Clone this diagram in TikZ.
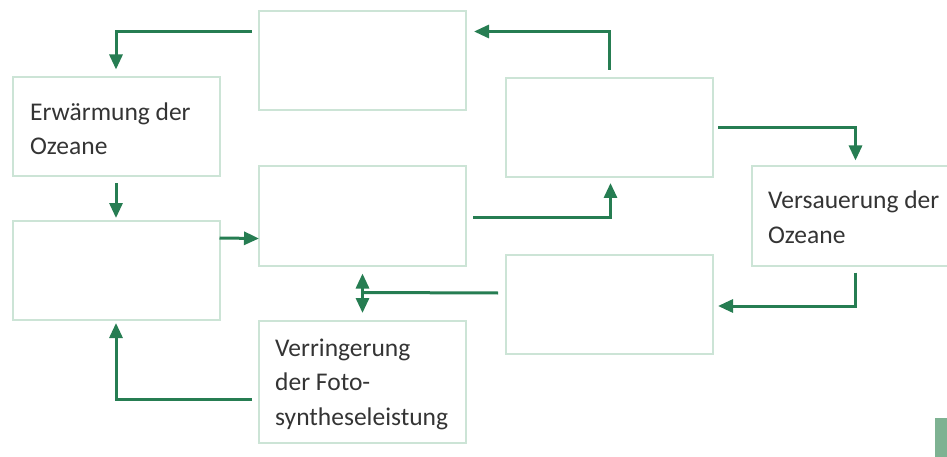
\documentclass[tikz,border=0pt]{standalone}
\usepackage{fontspec}
\setmainfont{Carlito}
\usetikzlibrary{arrows.meta,calc}

\definecolor{boxline}{RGB}{204,228,214}
\definecolor{arrowgreen}{RGB}{38,125,82}
\definecolor{textgray}{RGB}{52,52,52}
\definecolor{tabgreen}{RGB}{126,178,146}

\tikzset{
  box/.style={draw=boxline, line width=2pt, inner sep=0pt, outer sep=0pt,
              minimum width=207pt, minimum height=99pt},
  arr/.style={draw=arrowgreen, line width=3pt,
              -{Triangle[length=15pt,width=13pt]}},
  plain/.style={draw=arrowgreen, line width=3pt},
  txt/.style={text=textgray, inner sep=0pt, align=left,
              font=\fontsize{25.5pt}{34.5pt}\selectfont}
}

\begin{document}
\begin{tikzpicture}[x=1pt,y=-1pt]
  \clip (0,0) rectangle (947,457);

  % boxes
  \node[box] (T)  at (362.5,61)  {};
  \node[box] (E)  at (116,127)   {};
  \node[box] (R1) at (609.5,127.5) {};
  \node[box] (M)  at (362.5,216) {};
  \node[box] (L)  at (116,270.5) {};
  \node[box] (V)  at (855.5,216) {};
  \node[box] (R2) at (609.5,304) {};
  \node[box, minimum height=122pt] (F) at (362.5,382) {};

  % labels (anchored at the baseline of their last line)
  \node[txt, anchor=base west] (Et) at (30,155) {Erwärmung der\\Ozeane};
  \node[txt, anchor=base west] (Vt) at (768,243) {Versauerung der\\Ozeane};
  \node[txt, anchor=base west] (Ft) at (275,425) {Verringerung\\der Foto-\\syntheseleistung};

  % connectors
  \draw[arr] ($(T.north west)+(-7,20)$) -| ($(E.north)+(0,-8)$);
  \draw[arr] ($(E.south)+(0,7)$) -- ($(L.north)+(0,-3)$);
  \draw[arr] ($(L.north east)+(0,17)$) -- ($(M.north west)+(0,72)$);
  \draw[arr] ($(M.east)+(7,1)$) -| ($(R1.south)+(1,6)$);
  \draw[arr] ($(R1.north)+(0,-8)$) |- ($(T.north east)+(8,20)$);
  \draw[arr] ($(R1.east)+(5,0)$) -| ($(V.north)+(0,-6)$);
  \draw[arr] ($(V.south)+(0,7)$) |- ($(R2.east)+(5,2)$);

  \coordinate (J) at ($(M.south)+(0,27)$);
  \draw[plain] ($(R2.west)+(-8,-11)$) -- (J);
  \draw[arr] (J) -- ($(M.south)+(0,8)$);
  \draw[arr] (J) -- ($(F.north)+(0,-8)$);

  \draw[arr] ($(F.west)+(-7,17)$) -| ($(L.south)+(0,3)$);

  % partial tab at the lower right edge
  \fill[tabgreen] (935,418) rectangle (950,460);
\end{tikzpicture}
\end{document}
